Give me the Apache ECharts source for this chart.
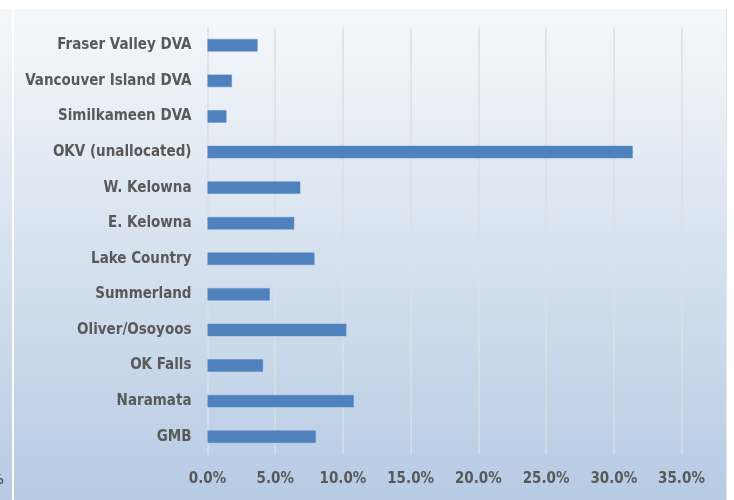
<!DOCTYPE html>
<html>
<head>
<meta charset="utf-8">
<script src="https://cdn.jsdelivr.net/npm/echarts@6/dist/echarts.min.js"></script>
<style>
html,body{margin:0;padding:0;background:#fff;}
#c{width:734px;height:500px;}
</style>
</head>
<body>
<div id="c"></div>
<script>
const categories = ["Fraser Valley DVA","Vancouver Island DVA","Similkameen DVA","OKV (unallocated)","W. Kelowna","E. Kelowna","Lake Country","Summerland","Oliver/Osoyoos","OK Falls","Naramata","GMB"];
const shares = [3.7, 1.8, 1.4, 31.4, 6.85, 6.4, 7.9, 4.6, 10.25, 4.1, 10.8, 8.0];
const tickMax = 35;
const tickStep = 5;

const chart = echarts.init(document.getElementById('c'), null, {renderer:'canvas'});
const labelFont = '"DejaVu Sans Condensed", "Liberation Sans", sans-serif';
function grad(){
  return new echarts.graphic.LinearGradient(0,0,0,1,[
    {offset:0,color:'#f5f8fb'},
    {offset:0.5,color:'#d6e1ee'},
    {offset:1,color:'#b7cbe4'}
  ]);
}
chart.setOption({
  animation:false,
  graphic:[
    {type:'rect', z:-10, shape:{x:14,y:9,width:712,height:491}, style:{fill:grad()}},
    {type:'rect', z:-10, shape:{x:0,y:9,width:12,height:491}, style:{fill:grad()}},
    {type:'line', z:-9, shape:{x1:726.5,y1:9,x2:726.5,y2:500}, style:{stroke:'#dfe6ee',lineWidth:1}},
    {type:'text', z:-9, left:-9, top:473, style:{text:'%', fill:'#595959', font:'bold 14px '+labelFont}}
  ],
  grid:{left:207.5, top:27.5, width:474, height:427, containLabel:false},
  xAxis:{
    type:'value', min:0, max:tickMax, interval:tickStep,
    axisLine:{show:false}, axisTick:{show:false},
    splitLine:{show:true, lineStyle:{color:'#dadfe6', width:1.5}},
    axisLabel:{margin:17, color:'#595959', fontSize:15, fontWeight:'bold', fontFamily:labelFont,
      formatter:v=>v.toFixed(1)+'%'}
  },
  yAxis:{
    type:'category', data:categories, inverse:true,
    axisLine:{show:false}, axisTick:{show:false}, splitLine:{show:false},
    axisLabel:{margin:16, color:'#595959', fontSize:15, fontWeight:'bold', fontFamily:labelFont}
  },
  series:[{
    type:'bar', data:shares, barWidth:'35%',
    itemStyle:{color:'#4f81bd', borderColor:'#5b8cc6', borderWidth:0.5}
  }]
});
</script>
</body>
</html>
